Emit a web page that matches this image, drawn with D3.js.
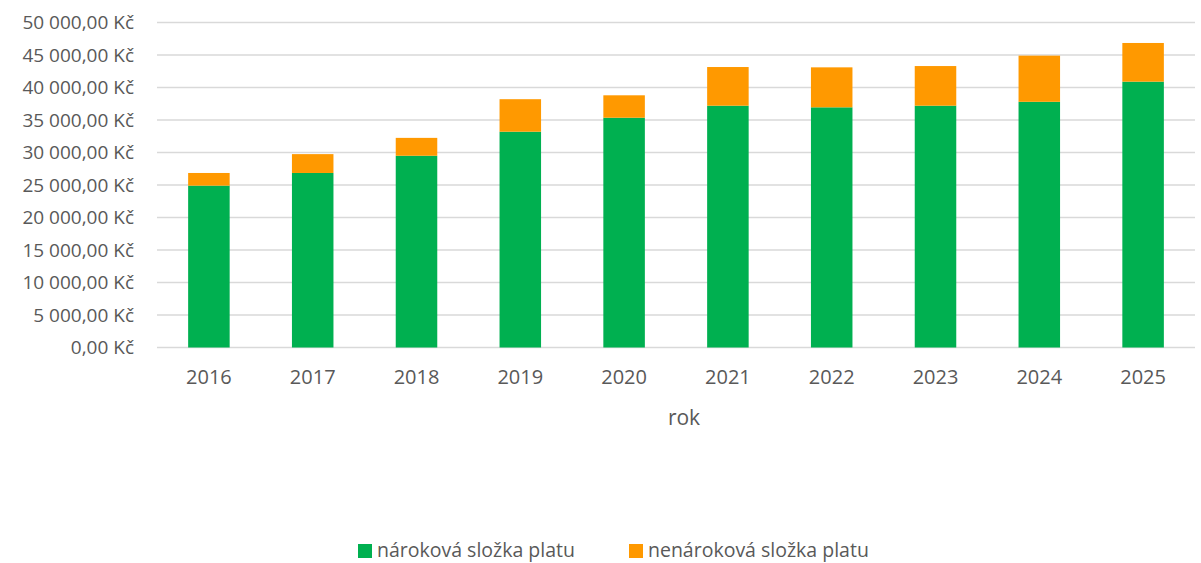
<!DOCTYPE html>
<html>
<head>
<meta charset="utf-8">
<script src="https://cdn.jsdelivr.net/npm/d3@7"></script>
<style>
  body { margin: 0; background: #fff; }
  text { font-family: "Open Sans", sans-serif; fill: #595959; }
</style>
</head>
<body>
<div id="chart"></div>
<script>
const years = ["2016", "2017", "2018", "2019", "2020", "2021", "2022", "2023", "2024", "2025"];
// nároková složka platu
const claimable = [24900, 26850, 29500, 33200, 35350, 37200, 36950, 37200, 37800, 40900];
// nenároková složka platu
const nonClaimable = [1950, 2900, 2750, 5000, 3450, 5950, 6150, 6100, 7100, 5950];
const yTicks = [0, 5000, 10000, 15000, 20000, 25000, 30000, 35000, 40000, 45000, 50000];
const seriesNames = ["nároková složka platu", "nenároková složka platu"];
const seriesColors = ["#00b050", "#ff9900"];

const width = 1201;
const height = 563;
const plot = {left: 157, right: 1195, top: 22.5, bottom: 347.5};

const svg = d3.select("#chart").append("svg")
    .attr("width", width)
    .attr("height", height);

const x = d3.scaleBand()
    .domain(years)
    .range([plot.left, plot.right])
    .paddingInner(0.6)
    .paddingOuter(0.3);

const y = d3.scaleLinear()
    .domain([0, 50000])
    .range([plot.bottom, plot.top]);

const fmt = v => {
    const s = d3.format(",.2f")(v).replace(/,/g, " ").replace(".", ",");
    return s + " Kč";
};

// gridlines
svg.append("g")
    .selectAll("line")
    .data(yTicks)
    .join("line")
    .attr("x1", plot.left)
    .attr("x2", plot.right)
    .attr("y1", d => y(d))
    .attr("y2", d => y(d))
    .attr("stroke", "#d9d9d9")
    .attr("stroke-width", 1.3);

// y axis labels
const yAxis = d3.axisLeft(y).tickValues(yTicks).tickFormat(fmt).tickSize(0).tickPadding(23);
svg.append("g")
    .attr("transform", `translate(${plot.left},0)`)
    .call(yAxis)
    .call(g => g.select(".domain").remove())
    .call(g => g.selectAll("text").style("font-size", "19px").attr("fill", "#595959"));

// stacked bars
const rows = years.map((yr, i) => ({year: yr, a: claimable[i], b: nonClaimable[i]}));
const stack = d3.stack().keys(["a", "b"])(rows);

svg.append("g")
    .selectAll("g")
    .data(stack)
    .join("g")
    .attr("fill", (d, i) => seriesColors[i])
    .selectAll("rect")
    .data(d => d)
    .join("rect")
    .attr("x", d => x(d.data.year))
    .attr("width", x.bandwidth())
    .attr("y", d => y(d[1]))
    .attr("height", d => y(d[0]) - y(d[1]));

// x axis
const xAxis = d3.axisBottom(x).tickSize(0).tickPadding(22);
svg.append("g")
    .attr("transform", `translate(0,${plot.bottom})`)
    .call(xAxis)
    .call(g => g.select(".domain").remove())
    .call(g => g.selectAll("text").style("font-size", "20px").attr("fill", "#595959"));

svg.append("text")
    .attr("x", 684)
    .attr("y", 425)
    .attr("text-anchor", "middle")
    .style("font-size", "21px")
    .text("rok");

// legend
const legendItems = [{x: 358, tx: 377}, {x: 629, tx: 648}];
const legend = svg.append("g");
legendItems.forEach((p, i) => {
    legend.append("rect")
        .attr("x", p.x)
        .attr("y", 544)
        .attr("width", 14)
        .attr("height", 14)
        .attr("fill", seriesColors[i]);
    legend.append("text")
        .attr("x", p.tx)
        .attr("y", 557)
        .style("font-size", "19.5px")
        .text(seriesNames[i]);
});
</script>
</body>
</html>
